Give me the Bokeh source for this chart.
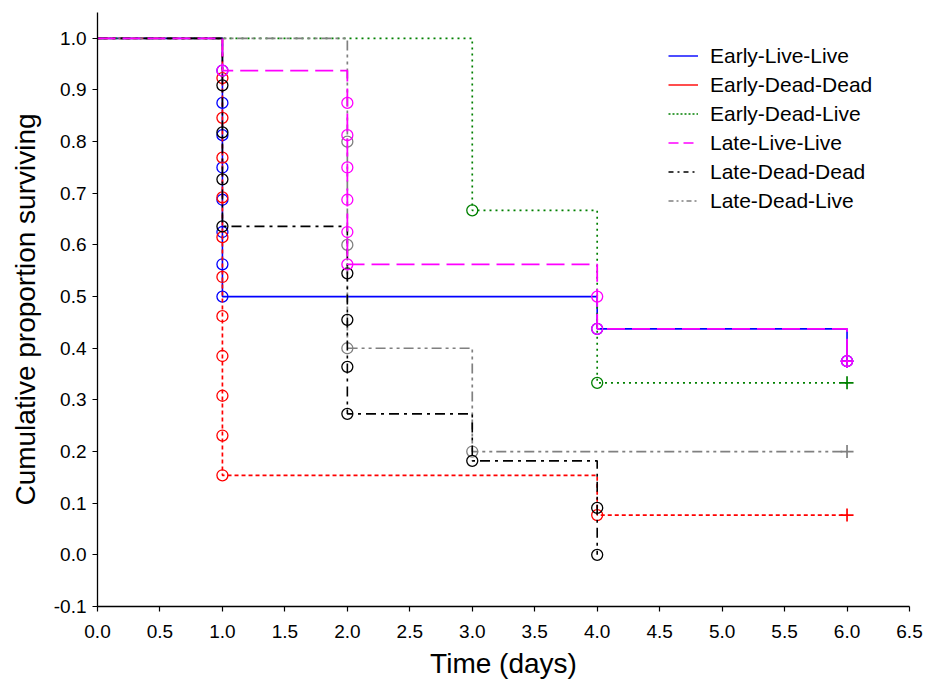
from bokeh.plotting import figure
from bokeh.models import Range1d, FixedTicker, Legend, LegendItem, CustomJSTickFormatter
from bokeh.embed import file_html
from bokeh.resources import INLINE

# ---- data (Kaplan-Meier events) ----
groups = ["Early-Live-Live", "Early-Dead-Dead", "Early-Dead-Live",
          "Late-Live-Live", "Late-Dead-Dead", "Late-Dead-Live"]

# event (death) times and survival after each event
ell_t = [1, 1, 1, 1, 1, 1, 1, 1, 4, 6]
ell_s = [0.9375, 0.875, 0.8125, 0.75, 0.6875, 0.625, 0.5625, 0.5, 0.4375, 0.375]
ell_ct = [6]
ell_cs = [0.375]

edd_t = [1, 1, 1, 1, 1, 1, 1, 1, 1, 1, 1, 4]
edd_s = [0.923, 0.846, 0.769, 0.692, 0.615, 0.538, 0.462, 0.385, 0.308, 0.231, 0.154, 0.077]
edd_ct = [6]
edd_cs = [0.077]

edl_t = [3, 4]
edl_s = [0.667, 0.333]
edl_ct = [6]
edl_cs = [0.333]

lll_t = [1, 2, 2, 2, 2, 2, 2, 4, 4, 6]
lll_s = [0.9375, 0.875, 0.8125, 0.75, 0.6875, 0.625, 0.5625, 0.5, 0.4375, 0.375]
lll_ct = [6]
lll_cs = [0.375]

ldd_t = [1, 1, 1, 1, 2, 2, 2, 2, 3, 4, 4]
ldd_s = [0.909, 0.818, 0.727, 0.636, 0.545, 0.455, 0.364, 0.273, 0.182, 0.091, 0.0]
ldd_ct = []
ldd_cs = []

ldl_t = [2, 2, 2, 3]
ldl_s = [0.8, 0.6, 0.4, 0.2]
ldl_ct = [6]
ldl_cs = [0.2]

x_ticks = [0.0, 0.5, 1.0, 1.5, 2.0, 2.5, 3.0, 3.5, 4.0, 4.5, 5.0, 5.5, 6.0, 6.5]
y_ticks = [-0.1, 0.0, 0.1, 0.2, 0.3, 0.4, 0.5, 0.6, 0.7, 0.8, 0.9, 1.0]

FONT = "Liberation Sans"

p = figure(width=926, height=681, output_backend="svg", toolbar_location=None,
           x_range=Range1d(0, 6.5), y_range=Range1d(-0.1, 1.05),
           min_border_left=97, min_border_right=17, min_border_top=12, min_border_bottom=74)
p.outline_line_color = None
p.grid.visible = False
p.background_fill_color = "white"

for ax in (p.xaxis[0], p.yaxis[0]):
    ax.major_label_text_font = FONT
    ax.axis_label_text_font = FONT
    ax.major_label_text_font_size = "19px"
    ax.axis_label_text_font_size = "28px"
    ax.axis_label_text_font_style = "normal"
    ax.major_label_text_color = "black"
    ax.axis_label_text_color = "black"
    ax.axis_line_color = "black"
    ax.major_tick_line_color = "black"
    ax.major_tick_out = 5
    ax.major_tick_in = 0
    ax.minor_tick_line_color = None
    ax.axis_line_width = 1.3
    ax.major_tick_line_width = 1.2

p.xaxis.ticker = FixedTicker(ticks=x_ticks)
p.yaxis.ticker = FixedTicker(ticks=y_ticks)
p.xaxis.formatter = CustomJSTickFormatter(code="return tick.toFixed(1);")
p.yaxis.formatter = CustomJSTickFormatter(code="return tick.toFixed(1);")
p.xaxis.axis_label = "Time (days)"
p.yaxis.axis_label = "Cumulative proportion surviving"
p.xaxis.major_label_standoff = 13
p.xaxis.axis_label_standoff = 7
p.yaxis.major_label_standoff = 6
p.yaxis.axis_label_standoff = 10


def step_points(ts, ss, cts):
    xs, ys = [0.0], [1.0]
    for t, s in zip(ts, ss):
        if xs[-1] == t:
            ys[-1] = s
        else:
            xs.append(t)
            ys.append(s)
    for ct in cts:
        if ct > xs[-1]:
            xs.append(ct)
            ys.append(ys[-1])
    return xs, ys


series = [
    ("Early-Live-Live", ell_t, ell_s, ell_ct, ell_cs, "#0000ff", "solid", 1.6),
    ("Early-Dead-Dead", edd_t, edd_s, edd_ct, edd_cs, "#ff0000", "4 3", 1.7),
    ("Early-Dead-Live", edl_t, edl_s, edl_ct, edl_cs, "#008000", "2 4", 1.7),
    ("Late-Dead-Live", ldl_t, ldl_s, ldl_ct, ldl_cs, "#808080", "10 4 3 4 3 4", 1.7),
    ("Late-Dead-Dead", ldd_t, ldd_s, ldd_ct, ldd_cs, "#000000", "10 5 3 5", 1.6),
    ("Late-Live-Live", lll_t, lll_s, lll_ct, lll_cs, "#ff00ff", "18 7", 1.8),
]

for name, ts, ss, cts, css, col, dash, lw in series:
    xs, ys = step_points(ts, ss, cts)
    p.step(xs, ys, mode="after", line_color=col, line_dash=dash, line_width=lw)
    p.scatter(ts, ss, marker="circle", size=11, fill_color=None, line_color=col, line_width=1.3)
    if cts:
        p.scatter(cts, css, marker="cross", size=13, line_color=col, line_width=1.7)

# legend proxies (styles as in the reference legend)
legend_styles = {
    "Early-Live-Live": ("#0000ff", "solid"),
    "Early-Dead-Dead": ("#ff0000", "solid"),
    "Early-Dead-Live": ("#008000", "2 2"),
    "Late-Live-Live": ("#ff00ff", "10 5"),
    "Late-Dead-Dead": ("#000000", "5 4 2 4"),
    "Late-Dead-Live": ("#808080", "5 3 2 3 2 3"),
}
nan = float("nan")
items = []
for g in groups:
    col, dash = legend_styles[g]
    r = p.line([nan, nan], [nan, nan], line_color=col, line_dash=dash, line_width=1.4)
    items.append(LegendItem(label=g, renderers=[r]))

legend = Legend(items=items, location=(571, 391))
legend.border_line_color = None
legend.background_fill_alpha = 0
legend.label_text_font = FONT
legend.label_text_font_size = "21px"
legend.label_text_color = "black"
legend.glyph_width = 30
legend.glyph_height = 29
legend.label_height = 29
legend.label_standoff = 12
legend.spacing = 0
legend.padding = 0
legend.margin = 0
p.add_layout(legend)

open("out.html", "w").write(file_html(p, INLINE))
